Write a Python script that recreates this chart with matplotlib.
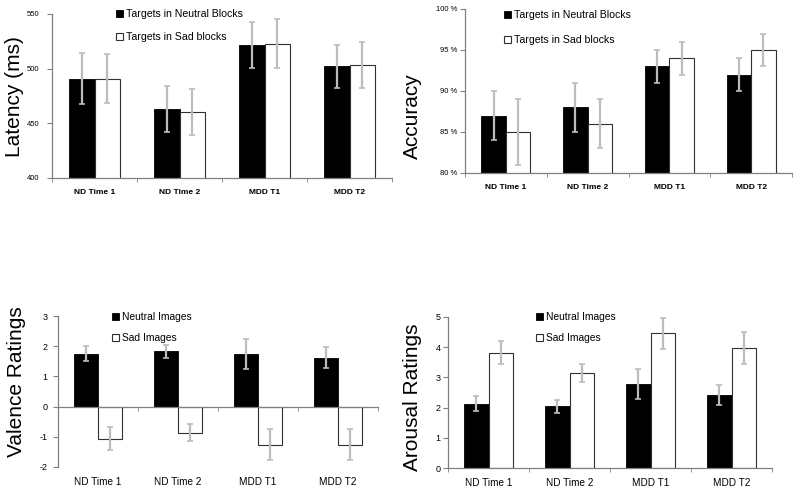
import matplotlib
matplotlib.use('Agg')
import matplotlib.pyplot as plt
import matplotlib.patches as patches
import numpy as np

plt.rcParams['font.family'] = ['Liberation Sans', 'DejaVu Sans']
plt.rcParams['axes.unicode_minus'] = False

groups = ['ND Time 1', 'ND Time 2', 'MDD T1', 'MDD T2']

# latency (ms)
lat_neutral = [491, 463, 522, 502]
lat_neutral_err = [23, 21, 21, 20]
lat_sad = [491, 460.5, 523, 503]
lat_sad_err = [22, 21, 22.5, 21]

# accuracy (%)
acc_neutral = [87, 88, 93, 92]
acc_neutral_err = [3, 3, 2, 2]
acc_sad = [85, 86, 94, 95]
acc_sad_err = [4, 3, 2, 2]

# valence ratings
val_neutral = [1.75, 1.83, 1.75, 1.62]
val_neutral_err = [0.25, 0.22, 0.5, 0.34]
val_sad = [-1.07, -0.86, -1.26, -1.26]
val_sad_err = [0.38, 0.29, 0.52, 0.52]

# arousal ratings
aro_neutral = [2.13, 2.04, 2.78, 2.42]
aro_neutral_err = [0.24, 0.22, 0.49, 0.34]
aro_sad = [3.82, 3.15, 4.46, 3.97]
aro_sad_err = [0.39, 0.3, 0.52, 0.52]

W, H = 800, 497
fig = plt.figure(figsize=(8, 4.97), dpi=100)

def px_axes(l, t, r, b):
    return fig.add_axes([l / W, 1 - b / H, (r - l) / W, (b - t) / H])

spine_c = '#808080'
err_c = '#bcbcbc'
bw = 0.3
x = np.arange(len(groups))

def bars(ax, neu, neu_e, sad, sad_e):
    ax.bar(x - bw / 2, neu, bw, color='black', edgecolor='black', linewidth=0.6, zorder=2)
    ax.bar(x + bw / 2, sad, bw, color='white', edgecolor='#303030', linewidth=0.8, zorder=2)
    ax.errorbar(x - bw / 2, neu, yerr=neu_e, fmt='none', ecolor=err_c,
                elinewidth=1.6, capsize=2.5, capthick=1.2, zorder=3)
    ax.errorbar(x + bw / 2, sad, yerr=sad_e, fmt='none', ecolor=err_c,
                elinewidth=1.6, capsize=2.5, capthick=1.2, zorder=3)

def style(ax, ytick_size, xtick_size, xbold=False, xpad=6, ypad=2):
    for s in ['top', 'right']:
        ax.spines[s].set_visible(False)
    for s in ['left', 'bottom']:
        ax.spines[s].set_color(spine_c)
        ax.spines[s].set_linewidth(0.9)
    ax.set_xlim(-0.5, len(groups) - 0.5)
    ax.set_xticks(x)
    ax.set_xticklabels(groups, fontsize=xtick_size,
                       fontweight='bold' if xbold else 'normal')
    ax.set_xticks(np.arange(-0.5, len(groups)), minor=True)
    ax.tick_params(axis='x', which='major', length=0, pad=xpad)
    ax.tick_params(axis='x', which='minor', length=3, color=spine_c, direction='out')
    ax.tick_params(axis='y', length=3.5, color=spine_c, labelsize=ytick_size, pad=ypad)

def legend(ax, labels, fx, fy, spacing, size):
    h = [patches.Patch(facecolor='black', edgecolor='black', linewidth=0.6),
         patches.Patch(facecolor='white', edgecolor='#303030', linewidth=0.8)]
    ax.legend(h, labels, loc='upper left', bbox_to_anchor=(fx / W, 1 - fy / H),
              bbox_transform=fig.transFigure, frameon=False, fontsize=size,
              handlelength=0.7, handleheight=0.7, handletextpad=0.25,
              labelspacing=spacing, borderpad=0, borderaxespad=0)

def ylabel(text, fx, fy):
    fig.text(fx / W, 1 - fy / H, text, rotation=90, fontsize=15,
             ha='center', va='center')

# top left: latency
ax1 = px_axes(52, 14, 392, 178)
bars(ax1, lat_neutral, lat_neutral_err, lat_sad, lat_sad_err)
ax1.set_ylim(400, 550)
ax1.set_yticks([400, 450, 500, 550])
style(ax1, 5.5, 6, xbold=True, xpad=8, ypad=5.5)
legend(ax1, ['Targets in Neutral Blocks', 'Targets in Sad blocks'], 116, 9, 1.25, 7.6)
ylabel('Latency (ms)', 14, 97)

# top right: accuracy
ax2 = px_axes(465, 9, 792, 173)
bars(ax2, acc_neutral, acc_neutral_err, acc_sad, acc_sad_err)
ax2.set_ylim(80, 100)
ax2.set_yticks([80, 85, 90, 95, 100])
ax2.set_yticklabels(['%d %%' % v for v in [80, 85, 90, 95, 100]])
style(ax2, 5.5, 6, xbold=True, xpad=8)
legend(ax2, ['Targets in Neutral Blocks', 'Targets in Sad blocks'], 504, 10, 1.45, 7.6)
ylabel('Accuracy', 412, 116)

# bottom left: valence
ax3 = px_axes(58, 316, 378, 467)
ax3.spines['bottom'].set_position(('data', 0))
bars(ax3, val_neutral, val_neutral_err, val_sad, val_sad_err)
ax3.set_ylim(-2, 3)
ax3.set_yticks([-2, -1, 0, 1, 2, 3])
style(ax3, 6.5, 7.2, xpad=51, ypad=4)
legend(ax3, ['Neutral Images', 'Sad Images'], 112, 312, 1.1, 7.4)
ylabel('Valence Ratings', 17, 382)

# bottom right: arousal
ax4 = px_axes(448, 317, 772, 468)
bars(ax4, aro_neutral, aro_neutral_err, aro_sad, aro_sad_err)
ax4.set_ylim(0, 5)
ax4.set_yticks([0, 1, 2, 3, 4, 5])
style(ax4, 6.5, 7.2, xpad=7)
legend(ax4, ['Neutral Images', 'Sad Images'], 536, 312, 1.1, 7.4)
ylabel('Arousal Ratings', 412, 397)

fig.savefig('out.png', dpi=100)
